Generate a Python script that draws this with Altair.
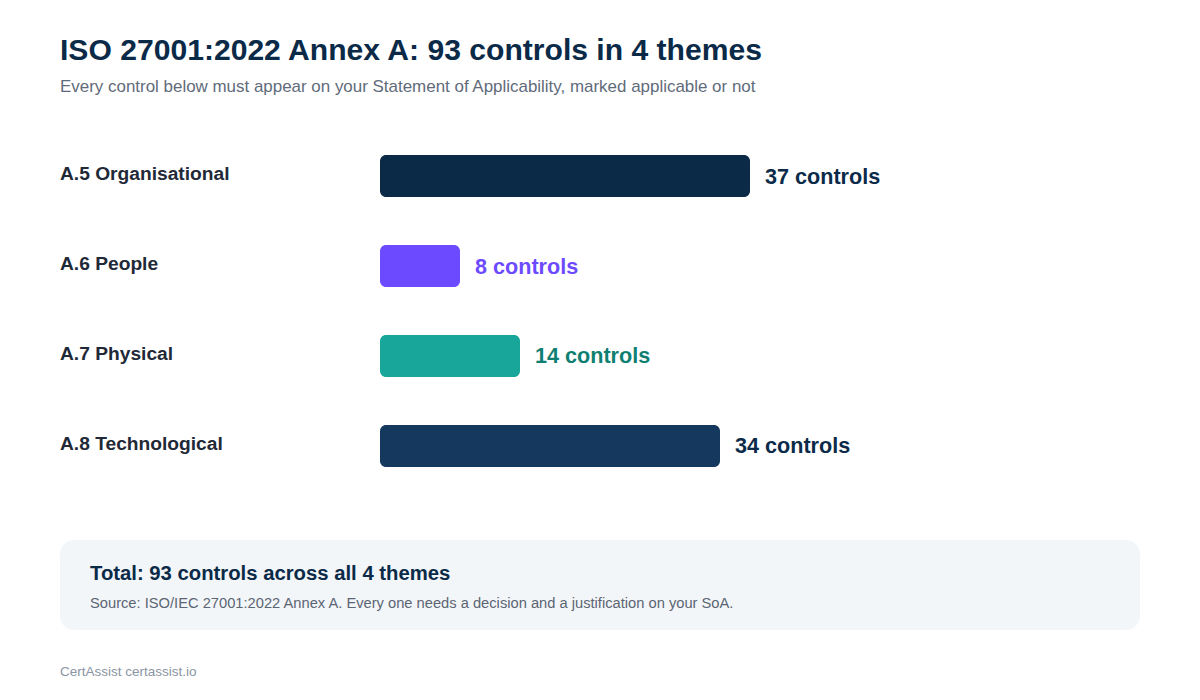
import altair as alt
import pandas as pd

themes = ["A.5 Organisational", "A.6 People", "A.7 Physical", "A.8 Technological"]
counts = [37, 8, 14, 34]
bar_colors = ["#0b2a48", "#6c4aff", "#18a59a", "#15395e"]
label_colors = ["#0b2a48", "#6c4aff", "#0e7f71", "#0b2a48"]

title_text = "ISO 27001:2022 Annex A: 93 controls in 4 themes"
subtitle_text = "Every control below must appear on your Statement of Applicability, marked applicable or not"
total_text = "Total: 93 controls across all 4 themes"
source_text = "Source: ISO/IEC 27001:2022 Annex A. Every one needs a decision and a justification on your SoA."
brand_text = "CertAssist certassist.io"

FONT = "Liberation Sans"

df = pd.DataFrame({
    "theme": themes,
    "count": counts,
    "bar_color": bar_colors,
    "label_color": label_colors,
    "label": [f"{c} controls" for c in counts],
})

xscale = alt.Scale(domain=[0, 37], range=[372, 742])
yscale = alt.Scale(domain=themes, range=[123, 483], paddingInner=0.5333, paddingOuter=0.26667)

base = alt.Chart(df)

bars = base.mark_bar(cornerRadius=6).encode(
    x=alt.X("count:Q", scale=xscale, axis=None),
    x2=alt.datum(0),
    y=alt.Y("theme:N", scale=yscale, axis=None, sort=themes),
    color=alt.Color("bar_color:N", scale=None),
)

value_labels = base.mark_text(
    align="left", baseline="alphabetic", dx=15, dy=7.5,
    font=FONT, fontSize=21.6, fontWeight="bold",
).encode(
    x=alt.X("count:Q", scale=xscale, axis=None),
    y=alt.Y("theme:N", scale=yscale, axis=None, sort=themes),
    text="label:N",
    color=alt.Color("label_color:N", scale=None),
)

theme_labels = base.mark_text(
    align="left", baseline="alphabetic", dy=4,
    font=FONT, fontSize=19.2, fontWeight="bold", color="#1f2937",
).encode(
    x=alt.value(52),
    y=alt.Y("theme:N", scale=yscale, axis=None, sort=themes),
    text="theme:N",
)

def text_layer(txt, x, y, size, color, weight="normal"):
    return alt.Chart(pd.DataFrame({"t": [txt]})).mark_text(
        align="left", baseline="alphabetic", font=FONT, fontSize=size,
        fontWeight=weight, color=color,
    ).encode(x=alt.value(x), y=alt.value(y), text="t:N")

box = alt.Chart(pd.DataFrame({"k": [0]})).mark_rect(
    cornerRadius=14, color="#f3f6f9"
).encode(
    x=alt.value(52), x2=alt.value(1132), y=alt.value(532), y2=alt.value(622)
)

chart = alt.layer(
    box,
    text_layer(title_text, 52, 52, 30.1, "#0b2a48", "bold"),
    text_layer(subtitle_text, 52, 84, 16.95, "#5f6b7a"),
    bars,
    value_labels,
    theme_labels,
    text_layer(total_text, 82, 572, 20.3, "#0b2a48", "bold"),
    text_layer(source_text, 82, 600, 14.7, "#5b6573"),
    text_layer(brand_text, 52, 668, 13.5, "#8b95a3"),
).properties(
    width=1184, height=684, padding=0,
    autosize=alt.AutoSizeParams(type="none"),
    background="#ffffff",
).configure_view(stroke=None)

chart.save("out.html", embed_options={"renderer": "svg", "actions": False})
